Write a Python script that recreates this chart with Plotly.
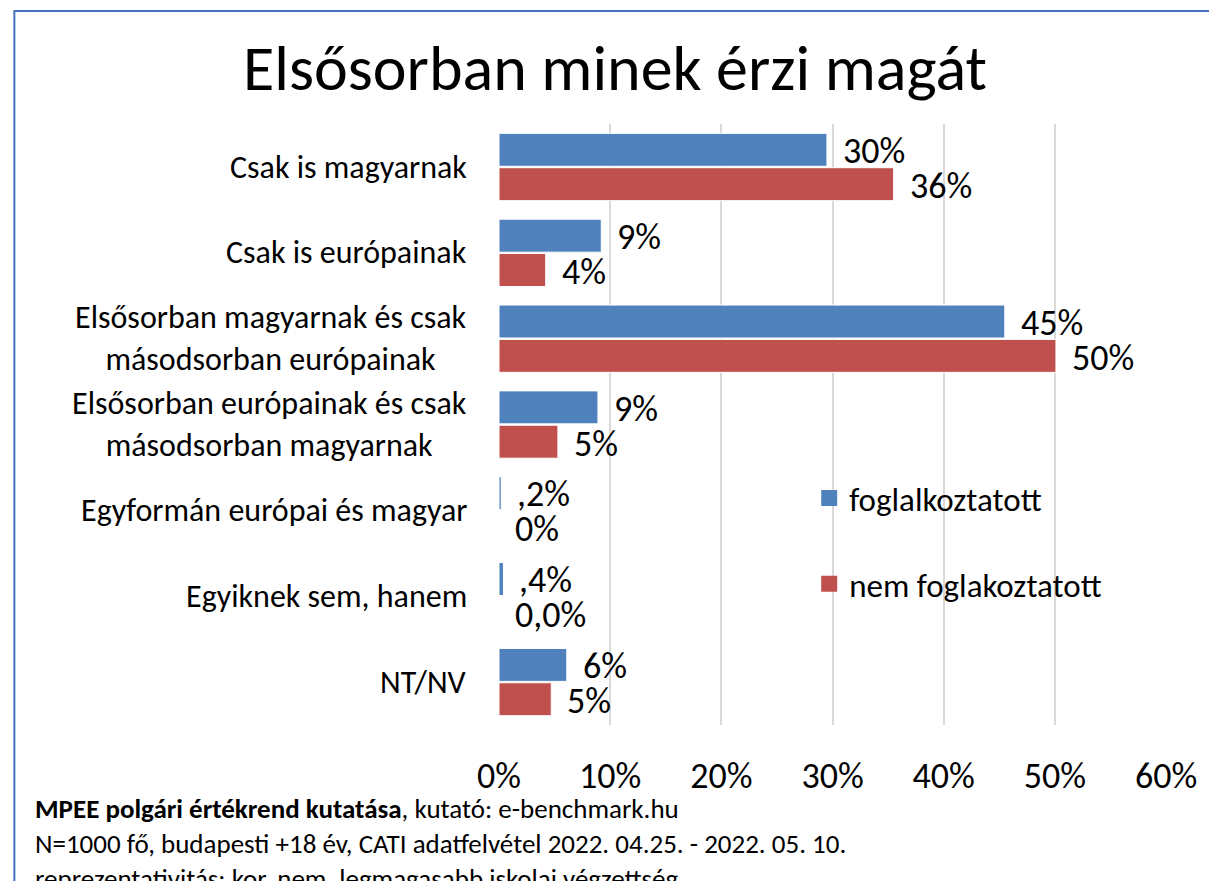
import plotly.graph_objects as go

categories = [
    "Csak is magyarnak",
    "Csak is európainak",
    "Elsősorban magyarnak és csak<br>másodsorban európainak",
    "Elsősorban európainak és csak<br>másodsorban magyarnak",
    "Egyformán európai és magyar",
    "Egyiknek sem, hanem",
    "NT/NV",
]
series_names = ["foglalkoztatott", "nem foglakoztatott"]
employed = [0.295, 0.092, 0.455, 0.089, 0.002, 0.004, 0.061]
not_employed = [0.355, 0.042, 0.501, 0.053, 0.0, 0.0, 0.047]
employed_labels = ["30%", "9%", "45%", "9%", ",2%", ",4%", "6%"]
not_employed_labels = ["36%", "4%", "50%", "5%", "0%", "0,0%", "5%"]
tick_vals = [0, 0.1, 0.2, 0.3, 0.4, 0.5, 0.6]
tick_text = ["0%", "10%", "20%", "30%", "40%", "50%", "60%"]

title_text = "Elsősorban minek érzi magát"
footnote = ("<b>MPEE polgári értékrend kutatása</b>, kutató: e-benchmark.hu<br>"
            "N=1000 fő, budapesti +18 év, CATI adatfelvétel 2022. 04.25. - 2022. 05. 10.<br>"
            "reprezentativitás: kor, nem, legmagasabb iskolai végzettség")

FONT = "Carlito, Lato, 'Liberation Sans', sans-serif"
BLUE = "#4F81BD"
RED = "#C0504D"
COLORS = [BLUE, RED]

W, H = 1209, 881
L, R, T, B = 499, 1209 - 1172, 124, 881 - 725
PW, PH = W - L - R, H - T - B


def px_x(p):
    return (p - L) / PW


def px_y(p):
    return (H - B - p) / PH


fig = go.Figure()
for vals, name, col in zip([employed, not_employed], series_names, COLORS):
    fig.add_trace(go.Bar(
        y=categories, x=vals, orientation="h", name=name,
        marker=dict(color=col, line=dict(color="white", width=1)),
        showlegend=False, hoverinfo="skip",
    ))
# legend entries (square swatches)
for i, (name, col) in enumerate(zip(series_names, COLORS)):
    fig.add_trace(go.Scatter(
        x=[None], y=[None], mode="markers", name=name,
        marker=dict(symbol="square", size=16, color=col),
        legendgroup="g%d" % i, showlegend=True, hoverinfo="skip",
    ))

annotations = []
for cat, v, lab in zip(categories, employed, employed_labels):
    annotations.append(dict(x=v, y=cat, xref="x", yref="y", text=lab, showarrow=False,
                            xanchor="left", yanchor="middle", xshift=14, yshift=16,
                            font=dict(family=FONT, size=36, color="black")))
for cat, v, lab in zip(categories, not_employed, not_employed_labels):
    annotations.append(dict(x=v, y=cat, xref="x", yref="y", text=lab, showarrow=False,
                            xanchor="left", yanchor="middle", xshift=14, yshift=-19,
                            font=dict(family=FONT, size=36, color="black")))
for cat in categories:
    annotations.append(dict(x=0, y=cat, xref="paper", yref="y", text=cat, showarrow=False,
                            xanchor="right", yanchor="middle", xshift=-30, align="center",
                            font=dict(family=FONT, size=32, color="black")))
annotations.append(dict(x=px_x(29), y=px_y(790), xref="paper",
                        yref="paper", text=footnote, showarrow=False,
                        xanchor="left", yanchor="top", align="left",
                        font=dict(family=FONT, size=27, color="black")))

fig.add_shape(type="rect", xref="paper", yref="paper",
              x0=px_x(10), x1=px_x(1220), y0=px_y(900), y1=px_y(11),
              line=dict(color="#4472C4", width=2), fillcolor="rgba(0,0,0,0)", layer="above")

fig.update_layout(
    width=W, height=H,
    margin=dict(l=L, r=R, t=T, b=B),
    paper_bgcolor="white", plot_bgcolor="white",
    barmode="group", bargap=0.2, bargroupgap=0.04,
    title=dict(text=title_text, x=615 / W, xanchor="center", xref="container",
               y=1 - 68 / H, yanchor="middle", yref="container",
               font=dict(family=FONT, size=64, color="black")),
    font=dict(family=FONT, color="black"),
    showlegend=True,
    legend=dict(x=px_x(812), y=px_y(470), xanchor="left", yanchor="top",
                font=dict(family=FONT, size=33, color="black"),
                tracegroupgap=40, bgcolor="rgba(0,0,0,0)", itemclick=False),
    annotations=annotations,
)
fig.update_xaxes(range=[0, 0.6], tickvals=tick_vals, ticktext=tick_text,
                 showgrid=True, gridcolor="#D9D9D9", gridwidth=2, zeroline=False,
                 showline=False, ticks="outside", ticklen=19, tickcolor="rgba(0,0,0,0)",
                 tickfont=dict(family=FONT, size=36, color="black"), fixedrange=True)
fig.update_yaxes(autorange="reversed", showticklabels=False, showgrid=False,
                 zeroline=False, showline=False, fixedrange=True)

fig.write_html("out.html", config={"displayModeBar": False},
               post_script="document.body.style.margin='0';document.body.style.overflow='hidden';")
